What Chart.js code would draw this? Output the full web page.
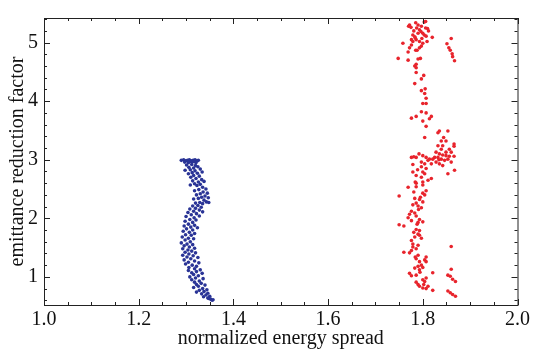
<!DOCTYPE html>
<html>
<head>
<meta charset="utf-8">
<script src="https://cdn.jsdelivr.net/npm/chart.js"></script>
<style>
  html, body { margin: 0; padding: 0; background: #fff; }
  #wrap { width: 533px; height: 349px; }
</style>
</head>
<body>
<div id="wrap"><canvas id="myChart" width="533" height="349"></canvas></div>
<script>
// axis ticks
const xTicks = [1.0, 1.2, 1.4, 1.6, 1.8, 2.0];
const yTicks = [1, 2, 3, 4, 5];

// blue cluster (x = normalized energy spread, y = emittance reduction factor)
const bluePts = [
  [1.290,2.99],[1.295,3.00],[1.299,2.98],[1.303,2.99],[1.307,3.00],[1.311,2.98],[1.315,2.99],[1.319,3.00],
  [1.323,2.98],[1.297,2.96],[1.305,2.95],[1.313,2.96],[1.321,2.95],[1.326,2.99],[1.309,2.97],[1.317,2.97],
  [1.301,2.91],[1.312,2.92],[1.320,2.90],[1.306,2.87],[1.316,2.86],[1.325,2.88],[1.309,2.83],[1.298,2.82],
  [1.319,2.81],[1.330,2.84],[1.313,2.78],[1.305,2.76],[1.324,2.77],[1.334,2.79],
  [1.316,2.73],[1.328,2.72],[1.310,2.70],[1.321,2.68],[1.333,2.66],[1.314,2.64],[1.326,2.62],[1.338,2.63],
  [1.318,2.59],[1.330,2.58],[1.309,2.57],[1.323,2.56],
  [1.335,2.53],[1.342,2.50],[1.327,2.49],[1.318,2.47],[1.336,2.45],[1.345,2.43],[1.330,2.42],[1.322,2.40],
  [1.340,2.38],[1.333,2.36],[1.347,2.35],[1.326,2.34],[1.316,2.33],[1.338,2.31],[1.343,2.28],[1.329,2.27],
  [1.320,2.26],[1.335,2.25],[1.348,2.27],
  [1.325,2.22],[1.314,2.21],[1.332,2.19],[1.320,2.17],[1.308,2.16],[1.328,2.14],[1.316,2.12],[1.335,2.11],
  [1.304,2.10],[1.322,2.08],[1.311,2.06],[1.328,2.04],[1.300,2.03],[1.317,2.01],
  [1.308,1.98],[1.321,1.97],[1.298,1.95],[1.314,1.93],[1.305,1.90],[1.318,1.88],[1.296,1.87],[1.310,1.85],
  [1.324,1.84],[1.301,1.82],[1.314,1.80],[1.294,1.78],[1.307,1.76],[1.318,1.74],[1.299,1.72],[1.311,1.71],
  [1.292,1.68],[1.305,1.66],[1.316,1.65],[1.298,1.63],[1.309,1.60],[1.290,1.58],[1.302,1.56],[1.314,1.55],
  [1.296,1.53],[1.307,1.51],[1.318,1.49],[1.293,1.48],[1.304,1.46],
  [1.312,1.44],[1.298,1.42],[1.320,1.41],[1.306,1.39],[1.293,1.37],[1.315,1.36],[1.302,1.34],[1.325,1.33],
  [1.310,1.31],[1.296,1.29],[1.318,1.27],[1.305,1.25],[1.327,1.24],[1.299,1.22],[1.313,1.20],[1.322,1.18],
  [1.306,1.16],
  [1.318,1.14],[1.330,1.12],[1.305,1.11],[1.322,1.09],[1.312,1.07],[1.334,1.06],[1.316,1.04],[1.326,1.02],
  [1.308,1.00],[1.320,0.98],[1.336,0.97],[1.312,0.95],[1.328,0.93],[1.318,0.91],
  [1.332,0.89],[1.322,0.87],[1.340,0.86],[1.326,0.84],[1.316,0.82],[1.335,0.80],[1.344,0.78],[1.328,0.77],
  [1.338,0.75],[1.322,0.74],[1.346,0.72],[1.333,0.71],[1.342,0.69],[1.350,0.67],[1.337,0.66],
  [1.346,0.64],[1.352,0.62],[1.357,0.61],[1.348,0.63],[1.355,0.60]
];

// red cluster
const redPts = [
  // top
  [1.772,5.30],[1.775,5.26],[1.785,5.34],[1.787,5.25],[1.803,5.35],[1.806,5.36],[1.806,5.25],[1.810,5.24],
  [1.793,5.22],[1.796,5.19],[1.790,5.16],[1.800,5.16],[1.779,5.13],[1.803,5.13],[1.807,5.11],[1.820,5.09],
  [1.776,5.05],[1.786,5.05],[1.793,5.02],[1.779,5.02],[1.800,4.99],[1.797,4.94],[1.772,4.91],[1.793,4.91],
  [1.788,4.87],[1.784,5.08],[1.798,5.07],[1.812,5.20],[1.781,5.20],[1.770,5.28],
  [1.790,5.30],[1.797,5.28],[1.783,5.10],[1.776,4.96],[1.809,5.02],
  [1.758,4.99],[1.769,4.84],[1.785,4.87],[1.748,4.73],[1.769,4.70],[1.790,4.72],[1.795,4.73],
  // upper middle
  [1.786,4.63],[1.783,4.60],[1.786,4.57],[1.786,4.49],[1.802,4.44],[1.797,4.38],[1.783,4.30],[1.805,4.21],
  [1.797,4.18],[1.804,4.13],[1.807,4.05],[1.800,3.96],[1.807,3.96],[1.797,3.82],[1.807,3.80],[1.786,3.74],
  [1.776,3.71],[1.818,3.74],[1.814,3.70],[1.800,3.66],[1.807,3.57],[1.804,3.38],
  // side group near 3
  [1.835,3.49],[1.832,3.46],[1.853,3.49],[1.844,3.38],[1.839,3.32],[1.849,3.32],[1.866,3.27],[1.866,3.23],
  [1.832,3.24],[1.842,3.24],[1.839,3.18],[1.856,3.18],[1.828,3.13],[1.835,3.10],[1.842,3.08],[1.849,3.07],
  [1.856,3.06],[1.866,3.06],[1.832,3.04],[1.839,3.01],[1.853,3.01],[1.825,3.04],[1.860,2.96],[1.835,2.93],
  [1.842,2.90],[1.867,2.82],[1.853,2.76],[1.828,2.96],[1.849,3.13],[1.860,3.13],[1.846,2.99],[1.834,3.00],
  // main band
  [1.776,3.04],[1.786,3.04],[1.800,3.07],[1.807,3.04],[1.814,3.01],[1.797,2.96],[1.804,2.93],[1.811,2.99],
  [1.797,2.88],[1.807,2.85],[1.800,2.79],[1.779,2.79],[1.786,2.73],[1.804,2.76],[1.821,3.01],[1.818,2.93],
  [1.818,2.68],[1.811,2.65],[1.800,2.62],[1.786,2.60],[1.786,2.54],[1.800,2.57],[1.769,2.53],[1.807,2.47],
  [1.800,2.43],[1.750,2.38],[1.804,2.40],
  [1.783,2.34],[1.793,2.32],[1.800,2.28],[1.786,2.26],[1.790,2.21],[1.797,2.18],[1.776,2.12],[1.783,2.09],
  [1.772,2.07],[1.786,2.04],[1.769,2.01],[1.793,1.98],[1.800,1.94],[1.790,1.93],[1.750,1.89],[1.760,1.87],
  [1.786,1.81],[1.793,1.79],[1.790,1.73],[1.783,1.68],[1.797,1.66],[1.776,1.62],[1.779,1.56],[1.790,1.54],
  [1.860,1.52],[1.786,1.48],[1.776,1.45],[1.760,1.42],[1.772,1.41],
  [1.790,1.37],[1.786,1.31],[1.807,1.34],[1.804,1.29],[1.793,1.26],[1.807,1.26],[1.790,1.18],[1.800,1.16],
  [1.793,1.12],[1.860,1.13],[1.772,1.06],[1.776,1.02],[1.786,1.03],[1.821,1.07],[1.807,0.98],
  [1.853,1.03],[1.858,1.01],[1.863,0.96],[1.869,0.92],
  [1.804,0.92],[1.811,0.84],[1.790,0.87],[1.793,0.84],[1.800,0.81],[1.807,0.80],[1.821,0.77],
  [1.853,0.76],[1.858,0.73],[1.863,0.70],[1.869,0.67],
  [1.781,2.45],[1.795,2.36],[1.779,2.23],[1.791,2.15],[1.776,1.96],[1.788,1.90],[1.781,1.76],[1.793,1.71],
  [1.779,1.51],[1.784,1.34],[1.797,1.20],[1.783,1.15],[1.794,1.08],[1.800,0.95],[1.786,0.91],[1.802,0.87],
  [1.784,2.62],[1.797,2.70],[1.789,2.83],[1.779,2.92],[1.792,3.10],[1.781,3.05],
  // side group at top
  [1.860,5.07],[1.851,4.98],[1.855,4.91],[1.858,4.87],[1.862,4.81],[1.863,4.76],[1.867,4.69]
];

const serif = "'Liberation Serif', 'Times New Roman', serif";

// frame with inward ticks on all four sides (Mathematica style)
const frameTicks = {
  id: 'frameTicks',
  afterDraw(chart) {
    const { ctx, chartArea: a, scales: { x, y } } = chart;
    ctx.save();
    ctx.strokeStyle = '#222';
    ctx.lineWidth = 1;
    ctx.strokeRect(a.left + 0.5, a.top + 0.5, a.right - a.left, a.bottom - a.top);
    ctx.beginPath();
    for (let i = 0; i <= 20; i++) {
      const v = 1 + i * 0.05;
      const px = Math.round(x.getPixelForValue(v)) + 0.5;
      const len = i % 4 === 0 ? 6 : 3;
      ctx.moveTo(px, a.bottom); ctx.lineTo(px, a.bottom - len);
      ctx.moveTo(px, a.top); ctx.lineTo(px, a.top + len);
    }
    for (let i = 3; i <= 27; i++) {
      const v = i * 0.2;
      const py = Math.round(y.getPixelForValue(v)) + 0.5;
      const len = i % 5 === 0 ? 6 : 3;
      ctx.moveTo(a.left, py); ctx.lineTo(a.left + len, py);
      ctx.moveTo(a.right, py); ctx.lineTo(a.right - len, py);
    }
    ctx.stroke();
    ctx.restore();
  }
};

const toXY = pts => pts.map(p => ({ x: p[0], y: p[1] }));

new Chart(document.getElementById('myChart'), {
  type: 'scatter',
  data: {
    datasets: [
      { label: 'blue', data: toXY(bluePts), backgroundColor: 'rgb(42,52,150)', pointRadius: 1.8, pointBorderWidth: 0 },
      { label: 'red', data: toXY(redPts), backgroundColor: 'rgb(232,36,44)', pointRadius: 1.8, pointBorderWidth: 0 }
    ]
  },
  options: {
    responsive: false,
    animation: false,
    devicePixelRatio: 1,
    layout: { padding: { top: 13, right: 13, left: 0, bottom: 0 } },
    plugins: { legend: { display: false }, tooltip: { enabled: false } },
    scales: {
      x: {
        type: 'linear', min: 1.0, max: 2.0,
        afterBuildTicks: s => { s.ticks = xTicks.map(v => ({ value: v })); },
        afterFit: s => { s.height = 44; },
        grid: { display: false, drawTicks: false },
        border: { display: false },
        ticks: { color: '#111', padding: 3, maxRotation: 0, font: { family: serif, size: 20 },
                 callback: v => v.toFixed(1) },
        title: { display: true, text: 'normalized energy spread', color: '#111',
                 font: { family: serif, size: 20, lineHeight: 1.0 }, padding: { top: 0, bottom: 0 } }
      },
      y: {
        type: 'linear', min: 0.52, max: 5.42,
        afterBuildTicks: s => { s.ticks = yTicks.map(v => ({ value: v })); },
        afterFit: s => { s.width = 44; },
        grid: { display: false, drawTicks: false },
        border: { display: false },
        ticks: { color: '#111', padding: 6, font: { family: serif, size: 20 },
                 callback: v => String(v) },
        title: { display: true, text: 'emittance reduction factor', color: '#111',
                 font: { family: serif, size: 20 }, padding: { top: 6, bottom: 0 } }
      }
    }
  },
  plugins: [frameTicks]
});
</script>
</body>
</html>
